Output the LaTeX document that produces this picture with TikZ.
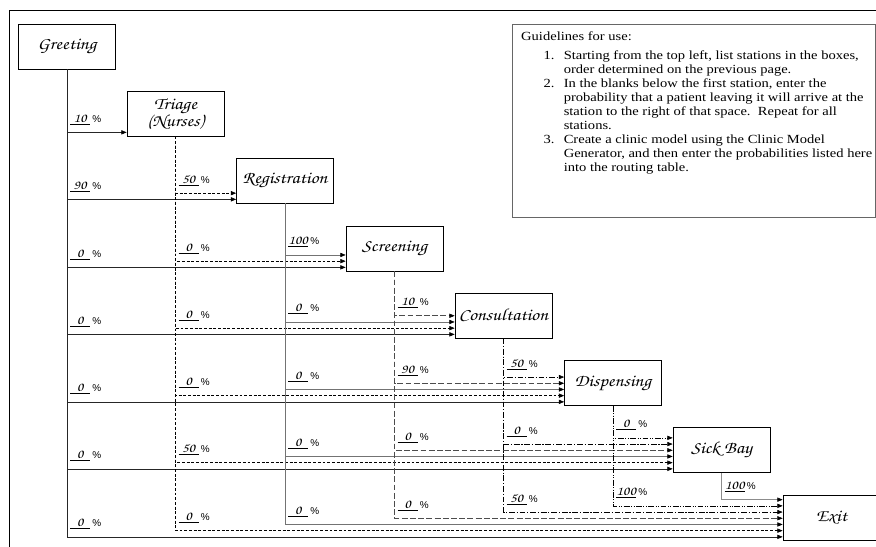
\documentclass[tikz,border=0pt]{standalone}
\usepackage{fontspec}
\setmainfont{Liberation Serif}[FakeStretch=1.17]
\newfontfamily\scrfont{texgyrechorus-mediumitalic.otf}[FakeStretch=1.15]
\newfontfamily\pctfont{Liberation Sans}
\usetikzlibrary{arrows.meta,calc}
\tikzset{station/.style={draw,line width=0.6pt,minimum width=2.91cm,minimum height=1.35cm,inner sep=1pt,align=center,font=\scrfont\fontsize{14.5}{12}\selectfont}}
\tikzset{pct/.style={inner sep=0pt,font=\scrfont\fontsize{11}{11}\selectfont}}
\tikzset{guide/.style={inner sep=0pt,align=left,font=\fontsize{10.6}{12}\selectfont}}
\tikzset{route/.style={line width=0.5pt,-{Triangle[length=4.5pt,width=3.6pt,color=black]}}}
\tikzset{from greet/.style={route,black!85}}
\tikzset{from tri/.style={route,dash pattern=on 2.5pt off 1.5pt}}
\tikzset{from reg/.style={route,black!55}}
\tikzset{from scr/.style={route,black!70,dash pattern=on 5pt off 2pt}}
\tikzset{from con/.style={route,dash pattern=on 5pt off 1.5pt on 1pt off 1.5pt}}
\tikzset{from dis/.style={route,dash pattern=on 5pt off 1.3pt on 0.8pt off 1.3pt on 0.8pt off 1.3pt}}
\tikzset{from sick/.style={route,black!45}}
\newcommand\pctlabel[1]{\underline{\makebox[0.6cm]{#1}}\,{\pctfont\fontsize{8.5}{9}\selectfont\%}}

\begin{document}
\begin{tikzpicture}[x=0.03cm,y=-0.03cm]
	\useasboundingbox (0,0) rectangle (876,546);
	% frame
	\draw[line width=1.6pt] (9.5,600) -- (9.5,10.5) -- (900,10.5);
	% stations
	\node[station] (greet) at (67,46.5) {Greeting};
	\node[station] (tri) at (175.5,113.5) {Triage\\(Nurses)};
	\node[station] (reg) at (285,180.5) {Registration};
	\node[station] (scr) at (394.5,248.5) {Screening};
	\node[station] (con) at (503.5,315.5) {Consultation};
	\node[station] (dis) at (613,383) {Dispensing};
	\node[station] (sick) at (721.5,450) {Sick Bay};
	\node[station] (exit) at (831.5,518) {Exit};
	% routing: source/index/target/percent
	\foreach \s/\i/\t/\p in {greet/0/tri/10, greet/0/reg/90, tri/1/reg/50,
		greet/0/scr/0, tri/1/scr/0, reg/2/scr/100,
		greet/0/con/0, tri/1/con/0, reg/2/con/0, scr/3/con/10,
		greet/0/dis/0, tri/1/dis/0, reg/2/dis/0, scr/3/dis/90, con/4/dis/50,
		greet/0/sick/0, tri/1/sick/50, reg/2/sick/0, scr/3/sick/0, con/4/sick/0, dis/5/sick/0,
		greet/0/exit/0, tri/1/exit/0, reg/2/exit/0, scr/3/exit/0, con/4/exit/50, dis/5/exit/100, sick/6/exit/100}{
		\coordinate (end-\s-\t) at ($(\t.south west)+(0,{-4-6.2*\i})$);
		\draw[from \s] (\s.south) |- (end-\s-\t);
		\node[pct,anchor=base west] (pct-\s-\t) at ($(\s.south |- end-\s-\t)+(3,-10)$) {\pctlabel{\p}};
	}
	% guidelines
	\draw[black!60,line width=0.6pt] (512,24) rectangle (875,217);
	\node[guide,anchor=north west] (guide) at (521,32) {Guidelines for use:\\[6pt]
		\begin{tabular}{@{\hspace{19pt}}r@{\hspace{8pt}}l@{}}
			1. & Starting from the top left, list stations in the boxes,\\
			   & order determined on the previous page.\\
			2. & In the blanks below the first station, enter the\\
			   & probability that a patient leaving it will arrive at the\\
			   & station to the right of that space.\ \ Repeat for all\\
			   & stations.\\
			3. & Create a clinic model using the Clinic Model\\
			   & Generator, and then enter the probabilities listed here\\
			   & into the routing table.
		\end{tabular}};
\end{tikzpicture}
\end{document}
